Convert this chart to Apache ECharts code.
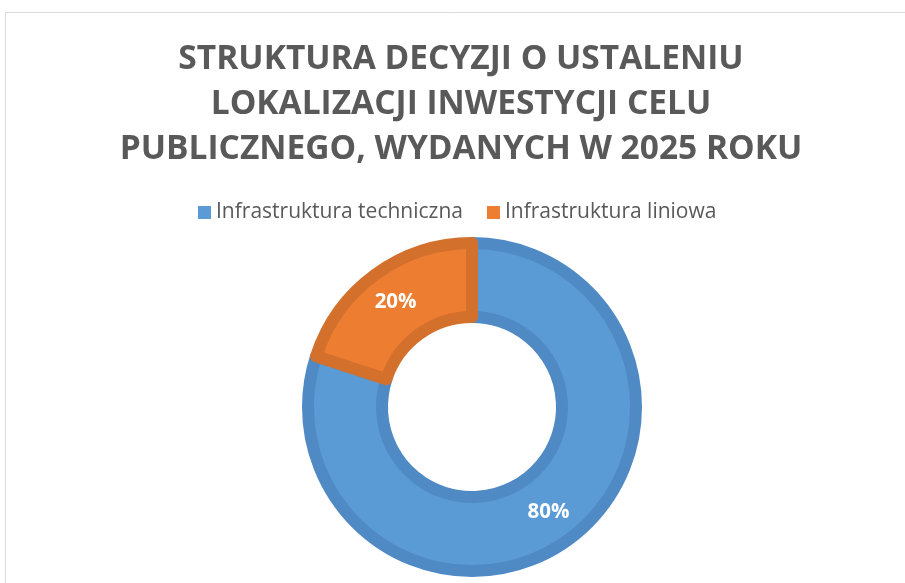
<!DOCTYPE html>
<html>
<head>
    <meta http-equiv="Content-Type" content="text/html; charset=utf-8" />
    <title>Struktura decyzji</title>
    <script src="https://cdn.jsdelivr.net/npm/echarts@6/dist/echarts.min.js"></script>
    <style>
        html, body { margin: 0; padding: 0; background: #fff; }
        #main { width: 905px; height: 583px; }
    </style>
</head>
<body>
    <div id="main"></div>
</body>
</html>
<script type="text/javascript">
// dane z wykresu
var categories = ['Infrastruktura techniczna', 'Infrastruktura liniowa'];
var values = [80, 20];
var fillColors = ['#5b9bd5', '#ed7d31'];
var borderColors = ['#4f8ac4', '#d3702c'];
var titleLines = ['STRUKTURA DECYZJI O USTALENIU', 'LOKALIZACJI INWESTYCJI CELU', 'PUBLICZNEGO, WYDANYCH W 2025 ROKU'];

var myChart = echarts.init(document.getElementById('main'));

var pieData = [];
for (var i = 0; i < categories.length; i++) {
    pieData.push({
        name: categories[i],
        value: values[i],
        itemStyle: {
            color: fillColors[i],
            borderColor: borderColors[i]
        }
    });
}

myChart.setOption({
    animation: false,
    backgroundColor: '#fff',
    // ramka wykresu (góra i lewa krawędź)
    graphic: [{
        type: 'rect',
        shape: { x: 5.5, y: 12.5, width: 1000, height: 1000 },
        style: { fill: 'none', stroke: '#d9d9d9', lineWidth: 1 },
        silent: true
    }],
    title: {
        text: titleLines.join('\n'),
        left: 461,
        top: 37,
        padding: 0,
        textAlign: 'center',
        textStyle: {
            fontFamily: 'Open Sans',
            fontWeight: 'bold',
            fontSize: 33.5,
            lineHeight: 45,
            color: '#595959'
        }
    },
    legend: {
        data: categories,
        left: 198,
        top: 202,
        padding: 0,
        icon: 'rect',
        itemWidth: 13,
        itemHeight: 13,
        itemGap: 24,
        itemStyle: { borderWidth: 0 },
        textStyle: {
            fontFamily: 'Open Sans',
            fontSize: 21,
            color: '#595959'
        }
    },
    series: [{
        type: 'pie',
        center: [472, 407],
        radius: [90, 164],
        startAngle: 90,
        clockwise: true,
        data: pieData,
        itemStyle: { borderWidth: 12 },
        label: {
            show: true,
            position: 'inside',
            formatter: '{d}%',
            color: '#fff',
            fontFamily: 'Open Sans',
            fontWeight: 'bold',
            fontSize: 20.5
        },
        labelLine: { show: false },
        emphasis: { disabled: true }
    }]
});
</script>
